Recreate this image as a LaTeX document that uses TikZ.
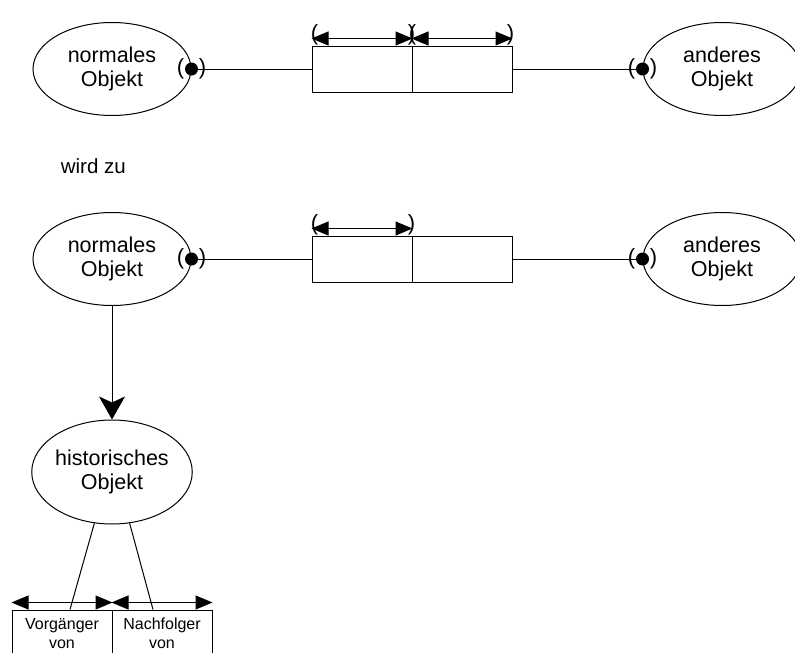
\documentclass[tikz,border=0pt]{standalone}
\usepackage{fontspec}
\setmainfont{Liberation Sans}
\usetikzlibrary{shapes.geometric,arrows.meta}

\tikzset{
  obj/.style={draw, ellipse, minimum width=158pt, minimum height=93pt, inner sep=0pt,
    align=center, font=\fontsize{21.5}{24}\selectfont},
  feld/.style={draw, minimum width=100pt, minimum height=46pt, inner sep=0pt},
  klein/.style={draw, minimum width=100pt, minimum height=47pt, inner sep=0pt,
    align=center, font=\fontsize{16}{19}\selectfont},
  spanne/.style={{Triangle[length=17pt,width=14pt]}-{Triangle[length=17pt,width=14pt]}},
  klammer/.style={font=\fontsize{22}{25}\selectfont, inner sep=0pt},
}

\begin{document}
\begin{tikzpicture}[x=1pt,y=-1pt,line width=1pt]
\useasboundingbox (0,0) rectangle (795,653);

% erste Zeile
\node[obj] (norm) at (112,69) {normales\\Objekt};
\node[obj] (ander) at (722,69) {anderes\\Objekt};
\node[feld] (fa) at (362,69) {};
\node[feld] (fb) at (462,69) {};
\draw (norm.east) -- (fa.west);
\draw (fb.east) -- (ander.west);

% Punkte mit Klammern
\foreach \p in {norm.east, ander.west} {
  \fill (\p) circle (6.5);
  \node[klammer] at ([xshift=-11]\p) {(};
  \node[klammer] at ([xshift=11]\p) {)};
}

% Spannen ueber den Feldern
\draw[spanne] ([yshift=7]fa.north west) -- ([yshift=7]fa.north east);
\draw[spanne] ([yshift=7]fb.north west) -- ([yshift=7]fb.north east);
\node[klammer] at ([xshift=3,yshift=11]fa.north west) {(};
\node[klammer] at ([xshift=-1,yshift=11]fa.north east) {)};
\node[klammer] at ([xshift=1,yshift=11]fb.north west) {(};
\node[klammer] at ([xshift=-2,yshift=11]fb.north east) {)};

\node[anchor=base west, font=\fontsize{20.5}{24}\selectfont] (wird) at (57,173) {wird zu};

% zweite Zeile
\node[obj] (norm2) at (112,259) {normales\\Objekt};
\node[obj] (ander2) at (722,259) {anderes\\Objekt};
\node[feld] (fc) at (362,259) {};
\node[feld] (fd) at (462,259) {};
\draw (norm2.east) -- (fc.west);
\draw (fd.east) -- (ander2.west);

\foreach \p in {norm2.east, ander2.west} {
  \fill (\p) circle (6.5);
  \node[klammer] at ([xshift=-11]\p) {(};
  \node[klammer] at ([xshift=11]\p) {)};
}

\draw[spanne] ([yshift=7]fc.north west) -- ([yshift=7]fc.north east);
\node[klammer] at ([xshift=3,yshift=11]fc.north west) {(};
\node[klammer] at ([xshift=-1,yshift=11]fc.north east) {)};

% historisches Objekt
\node[obj, minimum height=104pt] (hist) at (112,472) {historisches\\Objekt};
\draw[-{Stealth[length=23pt,width=26pt,inset=6pt]}] (norm2.south) -- (hist.north);

\node[klein] (vor) at (62,633.5) {Vorgänger\\von};
\node[klein] (nach) at (162,633.5) {Nachfolger\\von};
\draw[spanne] ([yshift=7]vor.north west) -- ([yshift=7]vor.north east);
\draw[spanne] ([yshift=7]nach.north west) -- ([yshift=7]nach.north east);
\draw (hist.251) -- ([xshift=8]vor.north);
\draw (hist.289) -- ([xshift=-9]nach.north);

\end{tikzpicture}
\end{document}
